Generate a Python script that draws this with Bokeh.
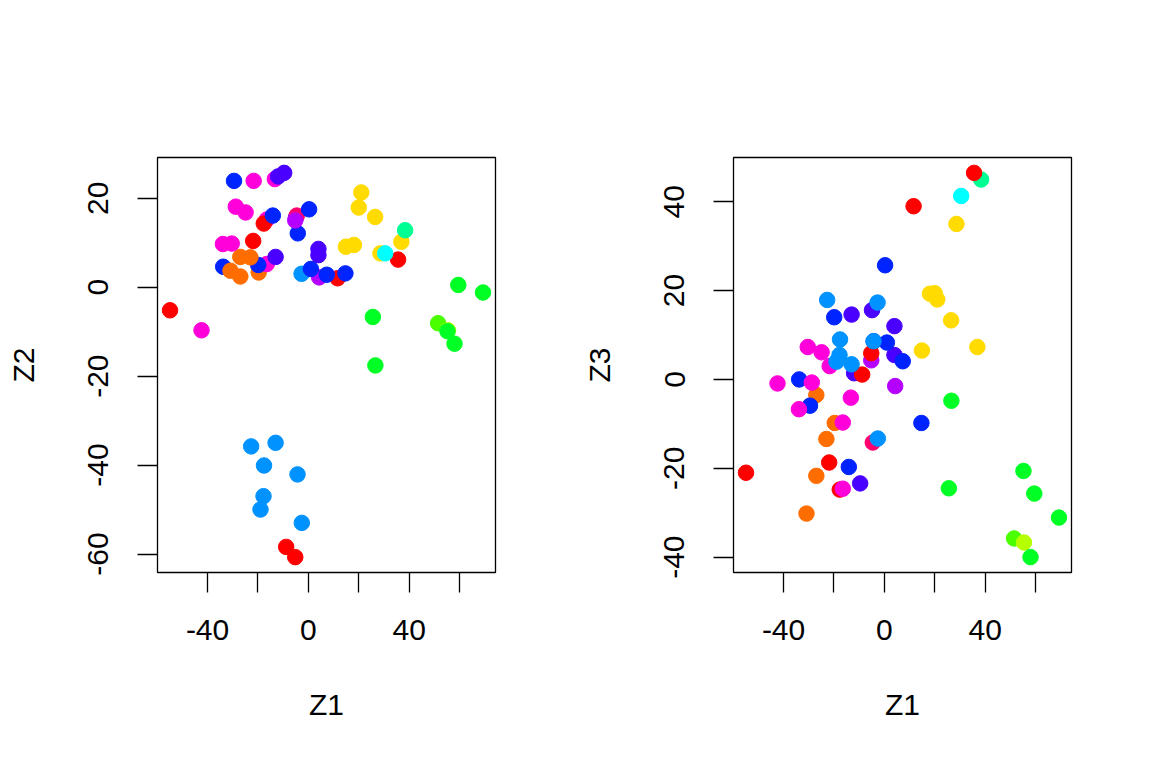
from bokeh.plotting import figure
from bokeh.layouts import row
from bokeh.models import Range1d, FixedTicker
from bokeh.embed import file_html
from bokeh.resources import INLINE

# rainbow(14) palette (R)
palette = ["#FF0000", "#FF6D00", "#FFDB00", "#B6FF00", "#49FF00", "#00FF24", "#00FF92",
           "#00FFFF", "#0092FF", "#0024FF", "#4900FF", "#B600FF", "#FF00DB", "#FF006D"]

z1 = [-4.9, -4.2, -4.6, -5.2, -5.2, -13.3, -12.0, -9.6, -8.8, -13.0,
      -19.7, -16.5, -17.7, -16.5, -19.9, -21.7, -17.6, -17.8, -19.0, -27.0,
      -33.8, -28.8, -29.5, -33.9, -30.4, -24.9, -14.1, 0.3, -21.9, -23.0,
      -13.0, -30.9, -27.0, 4.0, 4.0, -2.7, 4.3, 1.0, 11.6, 7.3,
      14.7, -4.3, -2.6, 36.9, 38.4, 35.6, 14.9, 18.1, 21.0, 20.0,
      26.5, 28.6, 30.5, 59.5, 69.3, -54.9, -42.4, 25.6, 51.5, 55.4,
      55.2, 58.0, 26.6, -22.7]
z2 = [15.7, 12.1, 16.1, 15.0, -60.7, 24.3, 24.9, 25.7, -58.4, -35.0,
      3.3, 15.2, 14.3, 5.2, 5.0, 23.9, -40.1, -47.0, -50.0, 6.8,
      4.6, 18.1, 23.9, 9.7, 9.8, 16.8, 16.1, 17.5, 10.4, 6.7,
      6.8, 3.7, 2.4, 8.6, 7.2, 3.0, 2.2, 4.1, 2.0, 2.8,
      3.1, -42.1, -53.0, 10.2, 12.8, 6.2, 9.1, 9.5, 21.3, 17.9,
      15.8, 7.6, 7.6, 0.5, -1.2, -5.2, -9.7, -6.7, -8.1, -9.7,
      -9.9, -12.7, -17.6, -35.8]
z3 = [15.6, 8.6, -14.2, 4.3, 5.9, -4.1, 1.4, -23.4, 1.1, 3.4,
      -9.8, -9.7, -24.8, -24.6, 14.0, 3.0, 9.0, 5.5, 4.0, -3.5,
      0.0, -0.7, -5.9, -6.7, 7.3, 6.1, -19.7, 25.7, -18.7, -13.4,
      14.6, -30.2, -21.7, 12.0, 5.5, 17.3, -1.5, 8.3, 39.0, 4.1,
      -9.8, 8.6, -13.3, 7.3, 45.0, 46.5, 6.5, 19.3, 18.0, 19.4,
      13.3, 35.0, 41.3, -25.7, -31.1, -21.0, -0.9, -24.5, -35.8, -36.7,
      -20.6, -40.0, -4.8, 17.9]
group = [10, 9, 13, 11, 0, 12, 10, 10, 0, 8,
         1, 12, 0, 12, 9, 12, 8, 8, 8, 1,
         9, 12, 9, 12, 12, 12, 9, 9, 0, 1,
         10, 1, 1, 10, 10, 8, 11, 9, 0, 9,
         9, 8, 8, 2, 6, 0, 2, 2, 2, 2,
         2, 2, 7, 5, 5, 0, 12, 5, 4, 3,
         5, 5, 5, 8]

x_ticks = [-40, -20, 0, 20, 40, 60]
x_labels = {-40: "-40", -20: "", 0: "0", 20: "", 40: "40", 60: ""}
y2_ticks = [-60, -40, -20, 0, 20]
y3_ticks = [-40, -20, 0, 20, 40]

colors = [palette[g] for g in group]
FONT = "Liberation Sans"
FS = "30px"


def rrange(v):
    lo, hi = min(v), max(v)
    d = (hi - lo) * 0.04
    return Range1d(lo - d, hi + d)


def panel(yv, ylab, yticks, left_border, right_border):
    p = figure(width=568, height=752, output_backend="svg", toolbar_location=None,
               x_range=rrange(z1), y_range=rrange(yv),
               min_border_left=left_border, min_border_right=right_border,
               min_border_top=157, min_border_bottom=180)
    p.grid.visible = False
    p.outline_line_color = "black"
    p.outline_line_width = 1.3
    p.background_fill_color = "white"
    p.border_fill_color = "white"
    p.scatter(z1, yv, size=15.5, fill_color=colors, line_color=colors, line_width=1)
    for ax, lab, ticks in ((p.xaxis, "Z1", x_ticks), (p.yaxis, ylab, yticks)):
        ax.ticker = FixedTicker(ticks=ticks)
        ax.axis_label = lab
        ax.axis_line_color = None
        ax.major_tick_line_color = "black"
        ax.major_tick_line_width = 1.3
        ax.major_tick_out = 20
        ax.major_tick_in = 0
        ax.minor_tick_line_color = None
        ax.major_label_text_font = FONT
        ax.major_label_text_font_size = FS
        ax.major_label_text_color = "black"
        ax.axis_label_text_font = FONT
        ax.axis_label_text_font_size = FS
        ax.axis_label_text_font_style = "normal"
        ax.axis_label_text_color = "black"
    p.xaxis.major_label_overrides = x_labels
    p.xaxis.major_label_standoff = 27
    p.xaxis.axis_label_standoff = 45
    p.yaxis.major_label_overrides = {t: str(t) for t in yticks}
    p.yaxis.major_label_orientation = "vertical"
    p.yaxis.major_label_standoff = 29
    p.yaxis.axis_label_standoff = 46
    return p


p1 = panel(z2, "Z2", y2_ticks, 157, 73)
p2 = panel(z3, "Z3", y3_ticks, 165, 65)
layout = row(p1, p2)

open("out.html", "w").write(file_html(layout, INLINE))
